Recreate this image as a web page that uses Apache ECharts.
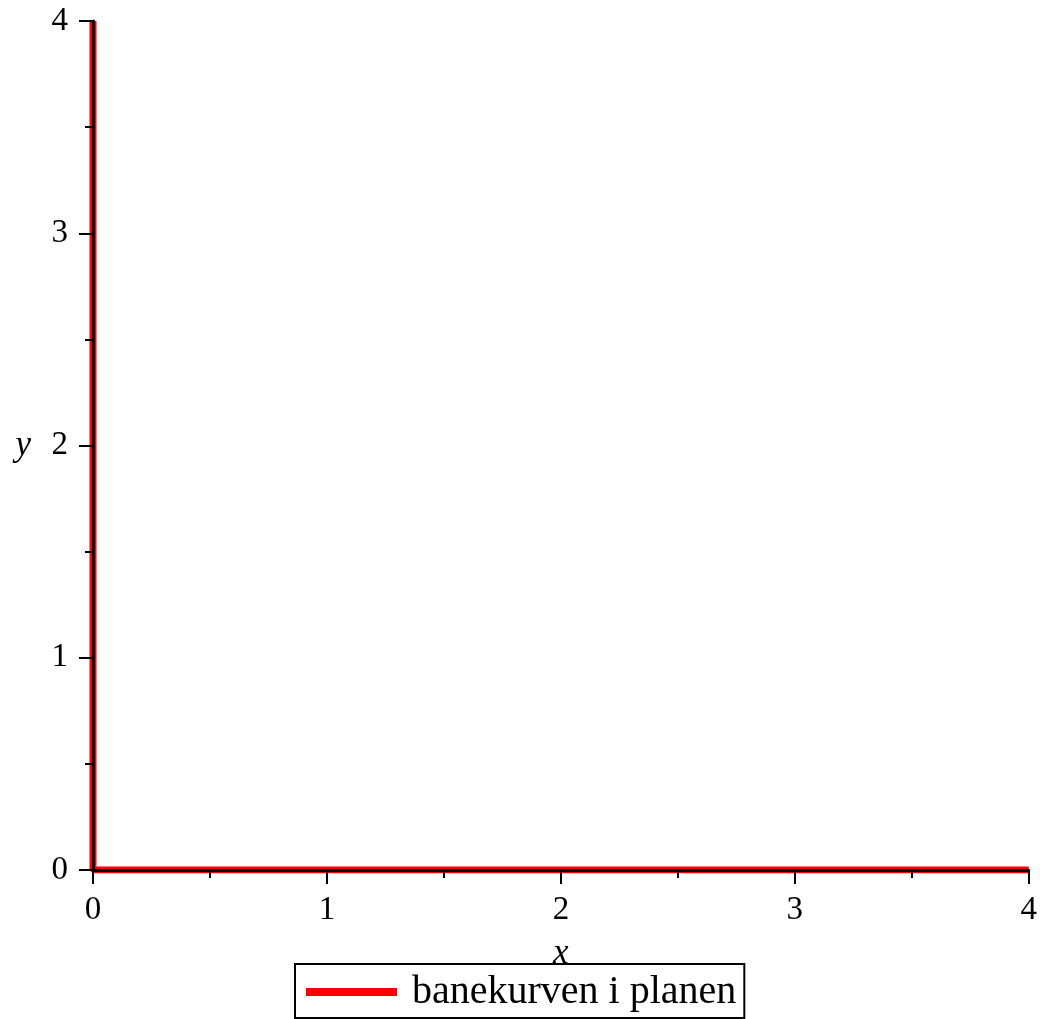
<!DOCTYPE html>
<html>
<head>
<meta charset="utf-8">
<script src="https://cdn.jsdelivr.net/npm/echarts@6/dist/echarts.min.js"></script>
<style>html,body{margin:0;padding:0;background:#fff;}#c{width:1040px;height:1019px;}</style>
</head>
<body>
<div id="c"></div>
<script>
const seriesName = 'banekurven i planen';
const pathX = [0, 0, 4];
const pathY = [4, 0, 0];
const xTicks = [0, 1, 2, 3, 4];
const yTicks = [0, 1, 2, 3, 4];

const font = '"Liberation Serif", "Times New Roman", serif';
const chart = echarts.init(document.getElementById('c'), null, {renderer: 'canvas'});
const data = pathX.map((x, i) => [x, pathY[i]]);
const axisCommon = {
  type: 'value', min: xTicks[0], max: xTicks[xTicks.length - 1], interval: 1, z: 10,
  axisLine: {show: true, onZero: false, lineStyle: {color: '#000', width: 3}},
  axisTick: {show: true, inside: false, length: 14, lineStyle: {color: '#000', width: 2}},
  minorTick: {show: true, splitNumber: 2, length: 8, lineStyle: {color: '#000', width: 2}},
  splitLine: {show: false},
  nameTextStyle: {fontFamily: font, fontSize: 35, fontStyle: 'italic', color: '#000'},
  axisLabel: {fontFamily: font, fontSize: 33, color: '#000'}
};
chart.setOption({
  animation: false,
  backgroundColor: '#fff',
  grid: {left: 93, right: 9, top: 21, bottom: 149, containLabel: false},
  xAxis: Object.assign({}, axisCommon, {
    name: 'x', nameLocation: 'middle', nameGap: 66,
    axisLabel: Object.assign({}, axisCommon.axisLabel, {margin: 24})
  }),
  yAxis: Object.assign({}, axisCommon, {
    min: yTicks[0], max: yTicks[yTicks.length - 1],
    name: 'y', nameLocation: 'middle', nameRotate: 0, nameGap: 62,
    axisLabel: Object.assign({}, axisCommon.axisLabel, {margin: 25})
  }),
  legend: {
    left: 295, top: 964,
    data: [{name: seriesName, icon: 'rect'}],
    itemWidth: 91, itemHeight: 8, itemGap: 10,
    padding: [8, 8, 6, 11],
    borderColor: '#000', borderWidth: 2, borderRadius: 0,
    textStyle: {fontFamily: font, fontSize: 40, lineHeight: 40, color: '#000', padding: [0, 0, 0, 10]}
  },
  series: [{
    name: seriesName, type: 'line', data: data, showSymbol: false, symbol: 'none',
    lineStyle: {color: '#ff0000', width: 7}, itemStyle: {color: '#ff0000'}, z: 2
  }]
});
</script>
</body>
</html>
